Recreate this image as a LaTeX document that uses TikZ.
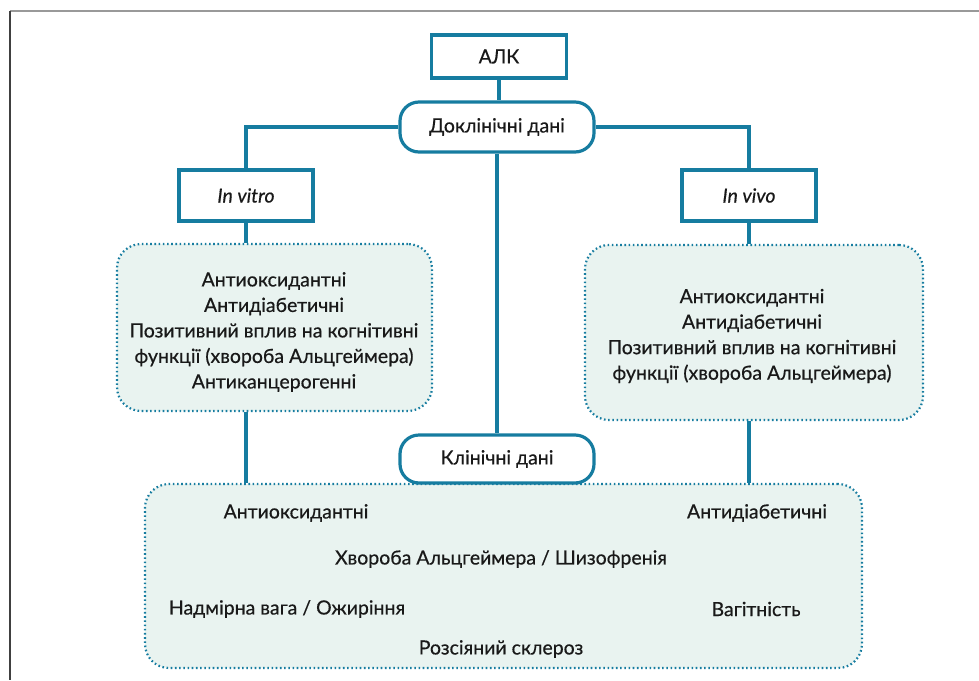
\documentclass[tikz,border=0pt]{standalone}
\usepackage{fontspec}
\setmainfont{Lato}[FakeBold=0.5]
\begin{document}
\begin{tikzpicture}[x=1pt,y=-1pt,
  every node/.style={font=\fontsize{19.5}{25.5}\selectfont, text=txt},
  solidbox/.style={draw=teal1, line width=3.2pt, fill=white, inner sep=0pt},
  pillbox/.style={solidbox, rounded corners=19pt},
  dotbox/.style={draw=teal1, line width=2.2pt, dash pattern=on 1.6pt off 2.6pt, fill=boxfill, rounded corners=24pt, inner sep=0pt},
  conn/.style={draw=teal1, line width=3.2pt},
  item/.style={inner sep=0pt, align=center}
]
\definecolor{teal1}{RGB}{22,124,160}
\definecolor{boxfill}{RGB}{233,243,240}
\definecolor{txt}{RGB}{25,25,25}
\useasboundingbox (0,0) rectangle (979,680);
% frame
\draw[line width=1.4pt, color=black!40] (10,11) -- (979,11);
\draw[line width=1.4pt, color=black!75] (10,11) -- (10,680);

% boxes
\node[solidbox, minimum width=135pt, minimum height=43pt] (alk) at (499,56.5) {АЛК};
\node[pillbox, minimum width=194pt, minimum height=50pt] (pre) at (497,127) {Доклінічні дані};
\node[solidbox, minimum width=134pt, minimum height=51pt] (vitro) at (246,195.5) {\itshape In vitro};
\node[solidbox, minimum width=134pt, minimum height=51pt] (vivo) at (749,195.5) {\itshape In vivo};
\node[dotbox, minimum width=315pt, minimum height=167pt] (lbox) at (274.5,327.5) {};
\node[item] (ltext) at (274,332) {Антиоксидантні\\Антидіабетичні\\Позитивний вплив на когнітивні\\функції (хвороба Альцгеймера)\\Антиканцерогенні};
\node[dotbox, minimum width=338pt, minimum height=175pt] (rbox) at (754,332.5) {};
\node[item] (rtext) at (752,336) {Антиоксидантні\\Антидіабетичні\\Позитивний вплив на когнітивні\\функції (хвороба Альцгеймера)};
\node[dotbox, minimum width=717pt, minimum height=184pt] (bbox) at (503.5,576) {};
\node[pillbox, minimum width=194pt, minimum height=48pt] (clin) at (497,459) {Клінічні дані};

% texts in bottom box
\node[item] (c1) at (296,513) {Антиоксидантні};
\node[item] (c2) at (757,513) {Антидіабетичні};
\node[item] (c3) at (501,559) {Хвороба Альцгеймера / Шизофренія};
\node[item] (c4) at (287,609) {Надмірна вага / Ожиріння};
\node[item] (c5) at (756,609) {Вагітність};
\node[item] (c6) at (501,649) {Розсіяний склероз};

% connectors
\draw[conn] (alk.south) -- (alk.south |- pre.north);
\draw[conn] (pre.west) -| (vitro.north);
\draw[conn] (pre.east) -| (vivo.north);
\draw[conn] (pre.south) -- (pre.south |- clin.north);
\draw[conn] (vitro.south) -- (vitro.south |- lbox.north);
\draw[conn] (vivo.south) -- (vivo.south |- rbox.north);
\draw[conn] (vitro.south |- lbox.south) -- (vitro.south |- bbox.north);
\draw[conn] (vivo.south |- rbox.south) -- (vivo.south |- bbox.north);
\end{tikzpicture}
\end{document}
